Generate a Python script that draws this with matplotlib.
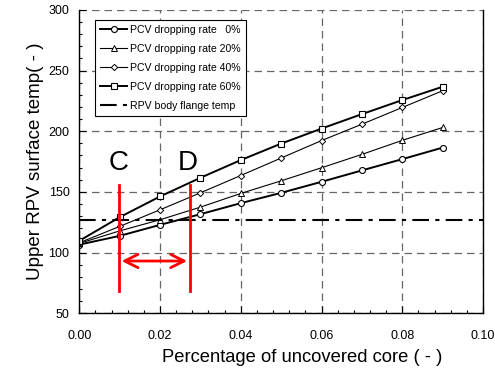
import matplotlib
matplotlib.use("Agg")
import matplotlib.pyplot as plt
from matplotlib.ticker import MultipleLocator

plt.rcParams['font.family'] = ['Liberation Sans', 'DejaVu Sans']

x = [0.00, 0.01, 0.02, 0.03, 0.04, 0.05, 0.06, 0.07, 0.08, 0.09]
rate0 = [106.5, 113.7, 122.8, 131.6, 140.7, 149.2, 158.3, 167.7, 177.0, 186.5]
rate20 = [107.5, 117.8, 127.0, 137.4, 148.7, 159.1, 169.9, 180.9, 192.5, 203.1]
rate40 = [108.0, 121.5, 135.2, 149.2, 163.5, 177.9, 192.3, 205.8, 219.6, 233.4]
rate60 = [109.6, 129.1, 146.2, 161.6, 176.2, 189.8, 202.2, 214.1, 225.7, 236.7]
flange_temp = 127.0
labels = ['PCV dropping rate   0%', 'PCV dropping rate 20%',
          'PCV dropping rate 40%', 'PCV dropping rate 60%',
          'RPV body flange temp']
c_x, d_x = 0.0098, 0.0274
range_y = (68, 155.5)
arrow_y = 93

fig = plt.figure(figsize=(4.95, 3.68), dpi=100)
ax = fig.add_axes([0.16, 0.149, 0.816, 0.824])

ax.plot(x, rate0, '-o', color='black', lw=1.4, ms=4.3, mfc='white', mec='black', mew=0.8, label=labels[0])
ax.plot(x, rate20, '-^', color='black', lw=0.8, ms=4.2, mfc='white', mec='black', mew=0.7, label=labels[1])
ax.plot(x, rate40, '-D', color='black', lw=0.8, ms=3.2, mfc='white', mec='black', mew=0.7, label=labels[2])
ax.plot(x, rate60, '-s', color='black', lw=1.4, ms=4.3, mfc='white', mec='black', mew=0.8, label=labels[3])
ax.axhline(flange_temp, color='black', lw=1.5, ls=(0, (8, 3, 2, 3)), label=labels[4])

# red annotation
ax.plot([c_x, c_x], range_y, color='red', lw=2)
ax.plot([d_x, d_x], range_y, color='red', lw=2)
ax.annotate('', xy=(c_x, arrow_y), xytext=(d_x, arrow_y),
            arrowprops=dict(arrowstyle='<->', color='red', lw=2, mutation_scale=24))
ax.text(c_x, 174, 'C', color='black', fontsize=20, ha='center', va='center')
ax.text(0.0268, 174, 'D', color='black', fontsize=20, ha='center', va='center')

ax.set_xlim(0, 0.10)
ax.set_ylim(50, 300)
ax.xaxis.set_major_locator(MultipleLocator(0.02))
ax.xaxis.set_minor_locator(MultipleLocator(0.004))
ax.yaxis.set_major_locator(MultipleLocator(50))
ax.yaxis.set_minor_locator(MultipleLocator(10))
ax.xaxis.set_major_formatter(matplotlib.ticker.FormatStrFormatter('%.2f'))
ax.tick_params(which='both', direction='in', labelsize=9, width=0.8)
ax.tick_params(which='major', length=5)
ax.tick_params(which='minor', length=2.5)
ax.tick_params(axis='x', pad=12)
ax.tick_params(axis='y', pad=7)
ax.grid(True, which='major', color='#666666', ls=(0, (6, 4)), lw=0.9)

for s in ['left', 'bottom', 'right']:
    ax.spines[s].set_linewidth(1.0)
ax.spines['top'].set_visible(False)

ax.set_xlabel('Percentage of uncovered core ( - )', fontsize=13.2, labelpad=6)
ax.xaxis.set_label_coords(0.552, -0.1455, transform=ax.transAxes)
ax.xaxis.label.set_va('center')
ax.set_ylabel('Upper RPV surface temp( - )', fontsize=13.5, labelpad=3)

leg = ax.legend(loc='upper left', bbox_to_anchor=(0.025, 0.985), fontsize=7.6,
                frameon=True, fancybox=False, edgecolor='black', framealpha=1,
                handlelength=2.6, labelspacing=0.85, borderpad=0.5, handletextpad=0.3)
leg.get_frame().set_linewidth(0.8)

fig.savefig('out.png', dpi=100)
